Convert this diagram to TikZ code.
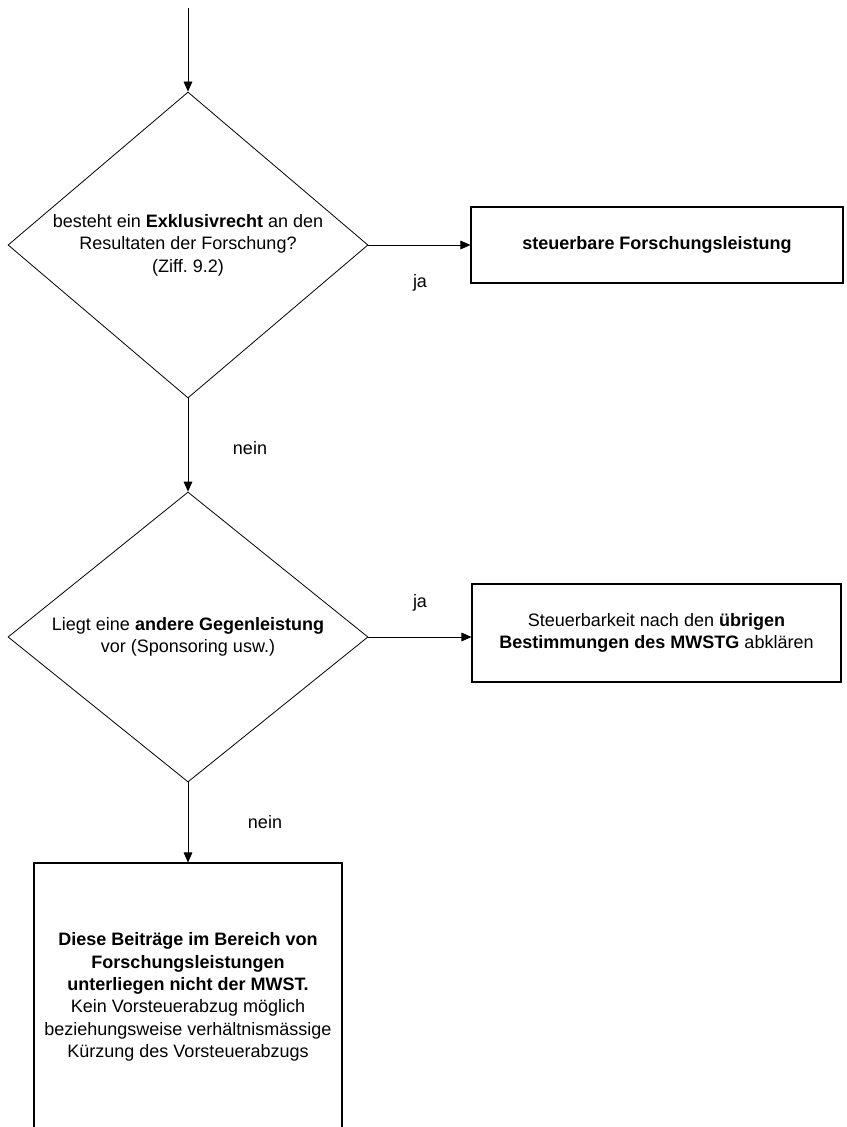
\documentclass[tikz,border=0pt]{standalone}
\usepackage{fontspec}
\setmainfont{Liberation Sans}
\usetikzlibrary{shapes.geometric,arrows.meta}
\tikzset{
  every node/.style={font=\fontsize{13.5pt}{16.8pt}\selectfont},
  dec/.style={draw, line width=0.6pt, diamond, inner sep=0pt, align=center},
  box/.style={draw, line width=0.8pt, rectangle, inner sep=0pt, align=center},
  conn/.style={line width=0.6pt, -{Triangle[length=7.5pt,width=6.5pt]}},
  lbl/.style={inner sep=0pt}
}
\begin{document}
\begin{tikzpicture}[x=0.75pt,y=-0.75pt]
\useasboundingbox (0,0) rectangle (846,1127);
\coordinate (start) at (188,8);
\node[dec, shape aspect=1.176, minimum width=270pt, minimum height=229.5pt] (d1) at (188,245)
  {besteht ein \textbf{Exklusivrecht} an den\\Resultaten der Forschung?\\(Ziff.\ 9.2)};
\node[box, minimum width=279pt, minimum height=57pt] (b1) at (657,245)
  {\textbf{steuerbare Forschungsleistung}};
\node[dec, shape aspect=1.241, minimum width=270pt, minimum height=217.5pt] (d2) at (188,637)
  {Liegt eine \textbf{andere Gegenleistung}\\vor (Sponsoring usw.)};
\node[box, minimum width=276.75pt, minimum height=73.5pt] (b2) at (656.5,633)
  {Steuerbarkeit nach den \textbf{übrigen}\\\textbf{Bestimmungen des MWSTG} abklären};
\node[box, minimum width=231pt, minimum height=201pt] (b3) at (188,997)
  {\textbf{Diese Beiträge im Bereich von}\\\textbf{Forschungsleistungen}\\\textbf{unterliegen nicht der MWST.}\\Kein Vorsteuerabzug möglich\\beziehungsweise verhältnismässige\\Kürzung des Vorsteuerabzugs};
\draw[conn] (start) -- (d1.north);
\draw[conn] (d1.east) -- (b1.west);
\draw[conn] (d1.south) -- (d2.north);
\draw[conn] (d2.east) -- (d2.east -| b2.west);
\draw[conn] (d2.south) -- (b3.north);
\node[lbl] (ja1) at (420,283) {ja};
\node[lbl] (nein1) at (250,448) {nein};
\node[lbl] (ja2) at (420,603) {ja};
\node[lbl] (nein2) at (265,822) {nein};
\end{tikzpicture}
\end{document}
